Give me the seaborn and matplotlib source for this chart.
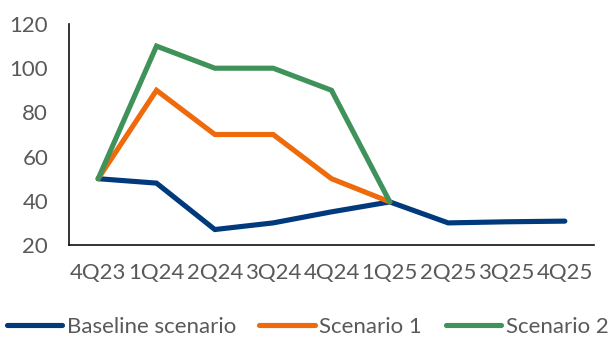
import numpy as np
import pandas as pd
import seaborn as sns
import matplotlib.pyplot as plt

quarters = ['4Q23', '1Q24', '2Q24', '3Q24', '4Q24', '1Q25', '2Q25', '3Q25', '4Q25']
baseline = [50, 48, 27, 30, 35, 39.5, 30, 30.5, 30.8]
scenario1 = [50, 90, 70, 70, 50, 39.5]
scenario2 = [50, 110, 100, 100, 90, 39.5]

series = {'Baseline scenario': baseline, 'Scenario 1': scenario1, 'Scenario 2': scenario2}
colors = ['#003A7D', '#EE6A0B', '#3F925A']

rows = []
for name, vals in series.items():
    for i, v in enumerate(vals):
        rows.append({'quarter': quarters[i], 'pos': i, 'value': v, 'series': name})
df = pd.DataFrame(rows)

sns.set_style('white')
plt.rcParams['font.family'] = ['Lato', 'DejaVu Sans']
text_color = '#595959'

fig = plt.figure(figsize=(6.09, 3.38), dpi=100)
ax = fig.add_axes([69 / 609, 1 - 245 / 338, (594 - 69) / 609, (245 - 24) / 338])

sns.lineplot(data=df, x='pos', y='value', hue='series', palette=colors, linewidth=3.7,
             ax=ax, sort=False, solid_capstyle='round', solid_joinstyle='miter')

ax.set_xlim(-0.5, 8.5)
ax.set_ylim(20, 120)
ax.set_yticks(range(20, 121, 20))
ax.set_xticks(range(len(quarters)))
ax.set_xticklabels(quarters)
ax.set_xticks(np.arange(-0.5, 8.6, 1), minor=True)
ax.tick_params(axis='x', which='major', length=0, pad=13, labelsize=16, labelcolor=text_color)
ax.tick_params(axis='x', which='minor', length=5, width=1.2, color='#111111', direction='out')
ax.tick_params(axis='y', length=5, width=1.2, color='#111111', direction='out', pad=10,
               labelsize=16, labelcolor=text_color)
ax.set_xlabel('')
ax.set_ylabel('')
sns.despine(ax=ax)
for s in ['left', 'bottom']:
    ax.spines[s].set_color('#111111')
    ax.spines[s].set_linewidth(1.2)

leg = ax.legend(loc='center', bbox_to_anchor=(0.505, 1 - 327 / 338), bbox_transform=fig.transFigure,
                ncol=3, frameon=False, fontsize=16, handlelength=2.5, handletextpad=0.2,
                columnspacing=1.05, labelcolor=text_color, borderpad=0, borderaxespad=0)
for line in leg.get_lines():
    line.set_linewidth(3.7)
    line.set_solid_capstyle('round')

fig.savefig('out.png', dpi=100)
